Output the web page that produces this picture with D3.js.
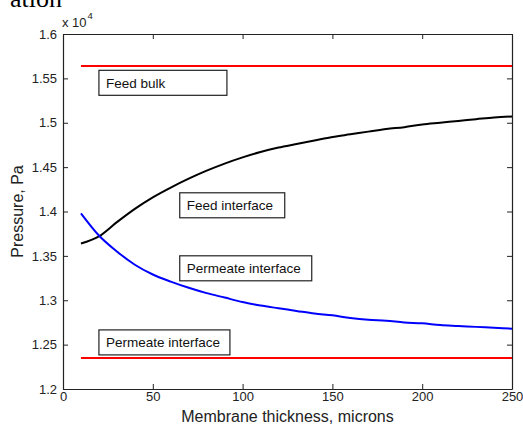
<!DOCTYPE html>
<html>
<head>
<meta charset="utf-8">
<script src="https://cdn.jsdelivr.net/npm/d3@7"></script>
<style>
  body { margin: 0; background: #fff; }
  text { font-family: "Liberation Sans", Arial, sans-serif; }
</style>
</head>
<body>
<div id="container"></div>
<script>
// membrane thickness (microns)
let thickness = [10, 20, 30, 40, 50, 60, 70, 80, 90, 100, 110, 120, 130, 140, 150,
  160, 170, 180, 190, 200, 210, 220, 230, 240, 250]
// pressures in units of 1e4 Pa
let feedInterface = [1.364, 1.372, 1.388, 1.403, 1.416, 1.427, 1.437, 1.446, 1.454, 1.461,
  1.467, 1.472, 1.476, 1.480, 1.484, 1.487, 1.490, 1.493, 1.495, 1.498,
  1.500, 1.502, 1.504, 1.506, 1.507]
let permeateInterface = [1.398, 1.373, 1.355, 1.340, 1.329, 1.321, 1.314, 1.308, 1.303, 1.298,
  1.294, 1.291, 1.288, 1.285, 1.283, 1.280, 1.278, 1.277, 1.275, 1.274,
  1.272, 1.271, 1.270, 1.269, 1.268]
let feedBulk = 1.564
let permeateBulk = 1.235

let xTicks = [0, 50, 100, 150, 200, 250]
let yTicks = [1.2, 1.25, 1.3, 1.35, 1.4, 1.45, 1.5, 1.55, 1.6]

let notes = [
  {label: 'Feed bulk', x: 20, y: 1.545, w: 128},
  {label: 'Feed interface', x: 65, y: 1.407, w: 105},
  {label: 'Permeate interface', x: 65, y: 1.336, w: 132},
  {label: 'Permeate interface', x: 20, y: 1.2525, w: 131}
]

let width = 523
let height = 428
let margin = {top: 34, right: 11, bottom: 39, left: 63}

let svg = d3.select('#container').append('svg')
  .attr('width', width)
  .attr('height', height)

let xScale = d3.scaleLinear()
  .domain([0, 250])
  .range([margin.left, width - margin.right])

let yScale = d3.scaleLinear()
  .domain([1.2, 1.6])
  .range([height - margin.bottom, margin.top])

// cropped caption from the page above
svg.append('text')
  .attr('x', 62).attr('y', 7)
  .attr('text-anchor', 'end')
  .style('font-family', '"Liberation Serif", serif')
  .style('font-size', '26px')
  .text('ation')

// axes, ticks inward on all sides
let fmt = d => d3.format('')(d)
svg.append('g')
  .attr('transform', `translate(0,${height - margin.bottom})`)
  .call(d3.axisBottom(xScale).tickValues(xTicks).tickSizeInner(-5).tickSizeOuter(0).tickPadding(3).tickFormat(fmt))
svg.append('g')
  .attr('transform', `translate(0,${margin.top})`)
  .call(d3.axisTop(xScale).tickValues(xTicks).tickSizeInner(-5).tickSizeOuter(0).tickFormat(''))
svg.append('g')
  .attr('transform', `translate(${margin.left},0)`)
  .call(d3.axisLeft(yScale).tickValues(yTicks).tickSizeInner(-5).tickSizeOuter(0).tickPadding(6).tickFormat(fmt))
svg.append('g')
  .attr('transform', `translate(${width - margin.right},0)`)
  .call(d3.axisRight(yScale).tickValues(yTicks).tickSizeInner(-5).tickSizeOuter(0).tickFormat(''))

svg.selectAll('.domain').attr('stroke', '#222').attr('stroke-width', 1.2)
svg.selectAll('.tick line').attr('stroke', '#222')
svg.selectAll('.tick text')
  .style('font-family', '"Liberation Sans", Arial, sans-serif')
  .style('font-size', '13px')
  .attr('fill', '#222')

// exponent label
let expo = svg.append('text')
  .attr('x', 62).attr('y', 27)
  .style('font-size', '13px')
  .attr('fill', '#222')
expo.append('tspan').text('x 10')
expo.append('tspan').attr('dx', 1).attr('dy', -8).style('font-size', '9.5px').text('4')

// axis labels
svg.append('text')
  .attr('x', (xScale(0) + xScale(250)) / 2)
  .attr('y', 422)
  .attr('text-anchor', 'middle')
  .style('font-size', '16px')
  .attr('fill', '#222')
  .text('Membrane thickness, microns')

svg.append('text')
  .attr('transform', `translate(23,${(yScale(1.2) + yScale(1.6)) / 2}) rotate(-90)`)
  .attr('text-anchor', 'middle')
  .style('font-size', '16px')
  .attr('fill', '#222')
  .text('Pressure, Pa')

// lines
let line = d3.line()
  .x(d => xScale(d[0]))
  .y(d => yScale(d[1]))

let x0 = thickness[0]
let x1 = thickness[thickness.length - 1]

svg.append('path')
  .datum([[x0, feedBulk], [x1, feedBulk]])
  .attr('d', line).attr('fill', 'none')
  .attr('stroke', '#ff0000').attr('stroke-width', 2)

svg.append('path')
  .datum([[x0, permeateBulk], [x1, permeateBulk]])
  .attr('d', line).attr('fill', 'none')
  .attr('stroke', '#ff0000').attr('stroke-width', 2)

svg.append('path')
  .datum(thickness.map((t, i) => [t, feedInterface[i]]))
  .attr('d', line.curve(d3.curveMonotoneX)).attr('fill', 'none')
  .attr('stroke', '#000').attr('stroke-width', 2)

svg.append('path')
  .datum(thickness.map((t, i) => [t, permeateInterface[i]]))
  .attr('d', line.curve(d3.curveMonotoneX)).attr('fill', 'none')
  .attr('stroke', '#0000ff').attr('stroke-width', 2)

// boxed annotations
for (let n of notes) {
  let g = svg.append('g')
    .attr('transform', `translate(${xScale(n.x)},${yScale(n.y)})`)
  g.append('rect')
    .attr('x', 0).attr('y', -12.5)
    .attr('width', n.w).attr('height', 25)
    .attr('fill', '#fff')
    .attr('stroke', '#222').attr('stroke-width', 1.2)
  g.append('text')
    .attr('x', 7).attr('y', 5)
    .style('font-size', '13.5px')
    .attr('fill', '#111')
    .text(n.label)
}
</script>
</body>
</html>
